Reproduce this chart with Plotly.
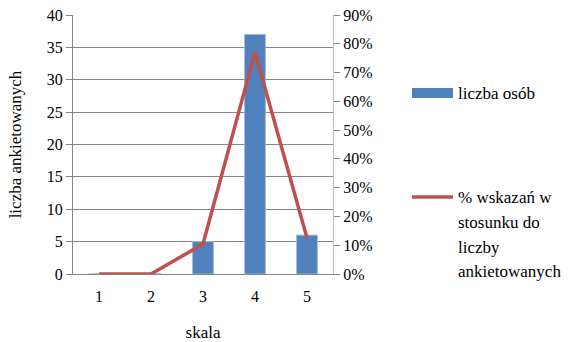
import plotly.graph_objects as go

categories = ["1", "2", "3", "4", "5"]
liczba_osob = [0, 0, 5, 37, 6]
procent_wskazan = [0.0, 0.0, 0.104, 0.771, 0.125]
bar_name = "liczba osób"
line_name_lines = ["% wskazań w", "stosunku do", "liczby", "ankietowanych"]

FONT = "Liberation Serif"
BLUE = "#4F81BD"
RED = "#C0504D"

PX0, PX1, PY0, PY1 = 73, 333, 15, 274
W, H = 585, 342
L = PX0
T = PY0
R = W - PX1
B = H - PY1
pw = PX1 - PX0
ph = PY1 - PY0

def px_x(x):
    return (x - PX0) / pw

def px_y(y):
    return (PY1 - y) / ph

fig = go.Figure()
fig.add_trace(go.Bar(
    x=categories, y=liczba_osob, name=bar_name,
    marker=dict(color=BLUE, line=dict(color="#9DB7DA", width=1)),
    width=0.4, yaxis="y", showlegend=False,
))
fig.add_trace(go.Scatter(
    x=categories, y=procent_wskazan, name=" ".join(line_name_lines),
    mode="lines", line=dict(color=RED, width=3.5),
    yaxis="y2", showlegend=False,
))

shapes = [
    dict(type="rect", xref="paper", yref="paper",
         x0=px_x(412), x1=px_x(453), y0=px_y(98), y1=px_y(88),
         fillcolor=BLUE, line=dict(width=0)),
    dict(type="line", xref="paper", yref="paper",
         x0=px_x(412), x1=px_x(453), y0=px_y(197), y1=px_y(197),
         line=dict(color=RED, width=3.5)),
]
annotations = [
    dict(text=bar_name, x=px_x(456), y=px_y(94), xref="paper", yref="paper",
         xanchor="left", yanchor="middle", showarrow=False,
         font=dict(family=FONT, size=17, color="#000")),
]
for i, t in enumerate(line_name_lines):
    annotations.append(dict(
        text=t, x=px_x(456), y=px_y(198 + i * 24.5), xref="paper", yref="paper",
        xanchor="left", yanchor="middle", showarrow=False,
        font=dict(family=FONT, size=17, color="#000")))

fig.update_layout(
    width=W, height=H,
    margin=dict(l=L, r=R, t=T, b=B),
    paper_bgcolor="white", plot_bgcolor="white",
    font=dict(family=FONT, size=16, color="#000"),
    bargap=0.6,
    xaxis=dict(
        type="category", showgrid=False, ticks="", showline=True, automargin=False,
        linecolor="#868686", linewidth=1, mirror=False,
        tickfont=dict(family=FONT, size=16), ticklabelstandoff=8,
        title=dict(text="skala", font=dict(family=FONT, size=17), standoff=21),
    ),
    yaxis=dict(
        range=[0, 40], dtick=5, showgrid=True, gridcolor="#868686", gridwidth=1,
        showline=True, linecolor="#868686", linewidth=1, automargin=False,
        ticks="outside", ticklen=6, tickcolor="#868686",
        tickfont=dict(family=FONT, size=16), zeroline=False,
        title=dict(text="liczba ankietowanych", font=dict(family=FONT, size=17), standoff=20),
    ),
    yaxis2=dict(
        range=[0, 0.9], dtick=0.1, tickformat=".0%", overlaying="y", side="right",
        showgrid=False, showline=True, linecolor="#BFBFBF", linewidth=1, automargin=False,
        ticks="outside", ticklen=6, tickcolor="#868686",
        tickfont=dict(family=FONT, size=16), zeroline=False,
    ),
    shapes=shapes, annotations=annotations,
)

fig.write_html(
    "out.html",
    config={"displayModeBar": False},
    post_script="document.body.style.margin='0';document.body.style.overflow='hidden';",
)
